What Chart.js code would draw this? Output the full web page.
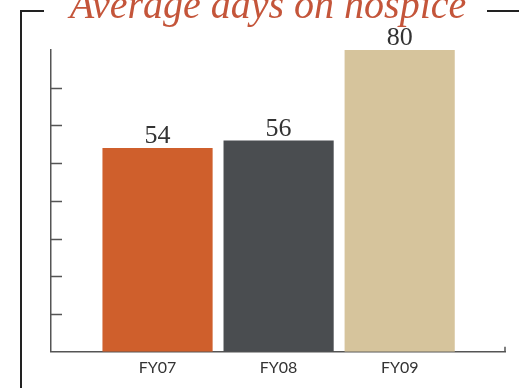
<!DOCTYPE html>
<html>
<head>
<meta charset="utf-8">
<script src="https://cdn.jsdelivr.net/npm/chart.js@4"></script>
<style>
    html, body { margin: 0; padding: 0; background: #fff; }
    #wrap { width: 519px; height: 388px; position: relative; }
</style>
</head>
<body>
<div id="wrap"><canvas id="myChart"></canvas></div>
<script>
const categories = ['FY07', 'FY08', 'FY09']
const days = [54, 56, 80]
const barColors = ['#cf5f2c', '#4a4d50', '#d6c49c']
const yTicks = [10, 20, 30, 40, 50, 60, 70]
const title = 'Average days on hospice'

const axisColor = '#555'

// frame, title, inward y ticks and value labels
const decor = {
    id: 'decor',
    afterDraw(chart) {
        const ctx = chart.ctx
        const area = chart.chartArea
        const y = chart.scales.y
        ctx.save()

        // frame
        ctx.strokeStyle = '#222'
        ctx.lineWidth = 2
        ctx.beginPath()
        ctx.moveTo(44, 11)
        ctx.lineTo(21, 11)
        ctx.lineTo(21, 388)
        ctx.moveTo(487, 11)
        ctx.lineTo(519, 11)
        ctx.stroke()

        // title
        ctx.fillStyle = '#c4553a'
        ctx.font = 'italic 40px "Liberation Serif"'
        ctx.textAlign = 'center'
        ctx.textBaseline = 'alphabetic'
        ctx.fillText(title, 268, 18)

        // inward ticks
        ctx.strokeStyle = axisColor
        ctx.lineWidth = 1.5
        ctx.beginPath()
        yTicks.forEach(t => {
            const py = Math.round(y.getPixelForValue(t)) + 0.5
            ctx.moveTo(area.left, py)
            ctx.lineTo(area.left + 11, py)
        })
        // small end mark on x axis
        ctx.moveTo(area.right, area.bottom)
        ctx.lineTo(area.right, area.bottom - 5)
        ctx.stroke()

        // value labels
        ctx.fillStyle = '#333'
        ctx.font = '26px "Liberation Serif"'
        ctx.textBaseline = 'alphabetic'
        chart.getDatasetMeta(0).data.forEach((bar, i) => {
            ctx.fillText(days[i], bar.x, bar.y - 5)
        })
        ctx.restore()
    }
}

new Chart(document.getElementById('myChart'), {
    type: 'bar',
    data: {
        datasets: [{
            data: days.map((v, i) => ({x: i, y: v})),
            backgroundColor: barColors,
            borderWidth: 0,
            barPercentage: 1,
            categoryPercentage: 0.91
        }]
    },
    options: {
        responsive: true,
        maintainAspectRatio: false,
        animation: false,
        layout: {padding: {left: 51, right: 14, top: 50, bottom: 5}},
        plugins: {legend: {display: false}, tooltip: {enabled: false}, title: {display: false}},
        scales: {
            x: {
                type: 'linear',
                offset: false,
                min: -0.88,
                max: 2.87,
                afterBuildTicks: (s) => { s.ticks = categories.map((c, i) => ({value: i})) },
                grid: {display: false, drawTicks: false},
                border: {display: true, color: axisColor, width: 1.5},
                ticks: {
                    padding: 6,
                    color: '#333',
                    font: {family: 'Lato', size: 16},
                    callback: (v) => categories[v]
                }
            },
            y: {
                min: 0,
                max: 80,
                grid: {display: false, drawTicks: false},
                border: {display: true, color: axisColor, width: 1.5},
                ticks: {display: false}
            }
        }
    },
    plugins: [decor]
})
</script>
</body>
</html>
